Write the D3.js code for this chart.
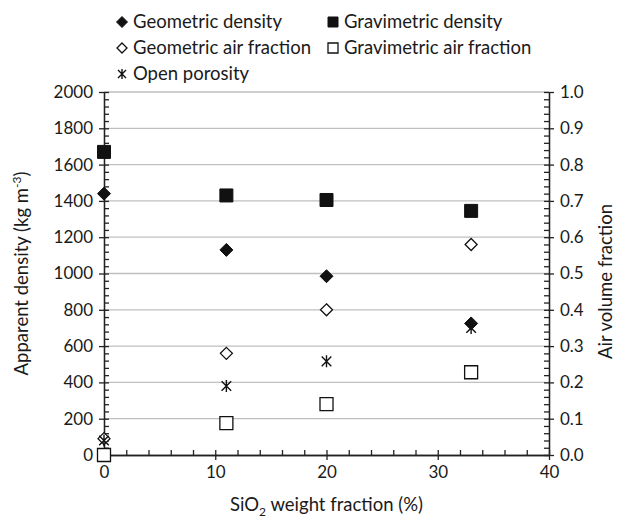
<!DOCTYPE html>
<html><head><meta charset="utf-8">
<script src="https://cdn.jsdelivr.net/npm/d3@7"></script>
<style>
body{margin:0;background:#fff}
svg{display:block}
text{font-family:Lato,"Open Sans",sans-serif;fill:#1a1a1a}
</style></head><body>
<svg id="c" width="623" height="520"></svg>
<script>
// ---- data ----
const xValues = [0, 11, 20, 33];
const geometricDensity = [1440, 1130, 985, 725];
const gravimetricDensity = [1670, 1430, 1405, 1345];
const geometricAirFraction = [0.045, 0.28, 0.40, 0.58];
const gravimetricAirFraction = [0.0, 0.088, 0.14, 0.228];
const openPorosity = [0.04, 0.19, 0.258, 0.35];
const xTicks = [0, 10, 20, 30, 40];
const yLeftTicks = [0, 200, 400, 600, 800, 1000, 1200, 1400, 1600, 1800, 2000];
const yRightTicks = [0, 0.1, 0.2, 0.3, 0.4, 0.5, 0.6, 0.7, 0.8, 0.9, 1.0];
const legendLabels = ["Geometric density", "Gravimetric density", "Geometric air fraction", "Gravimetric air fraction", "Open porosity"];

// ---- layout ----
const L = 104, R = 549, T = 92, B = 455;
const svg = d3.select("#c");
const x = d3.scaleLinear().domain([0, 40]).range([L, R]);
const yL = d3.scaleLinear().domain([0, 2000]).range([B, T]);
const yR = d3.scaleLinear().domain([0, 1]).range([B, T]);
const FS = 17, FT = 18.5;

// gridlines
svg.append("g").selectAll("line").data(yLeftTicks.filter(d => d > 0)).join("line")
  .attr("x1", L).attr("x2", R).attr("y1", d => yL(d)).attr("y2", d => yL(d))
  .attr("stroke", "#bfbfbf").attr("stroke-width", 1.3);

function styleAxis(g) {
  g.select(".domain").attr("stroke", "#222").attr("stroke-width", 1.3);
  g.selectAll(".tick line").attr("stroke", "#222").attr("stroke-width", 1.3);
  g.selectAll(".tick text").attr("font-size", FS).attr("font-family", "Lato,'Open Sans',sans-serif").attr("fill", "#1a1a1a");
}
const range = (a, b, s) => d3.range(Math.round(a / s), Math.round(b / s) + 1).map(i => +(i * s).toFixed(4));

// left axis
svg.append("g").attr("transform", `translate(${L},0)`)
  .call(d3.axisLeft(yL).tickValues(yLeftTicks).tickSize(5).tickPadding(6).tickFormat(d3.format("d")).tickSizeOuter(0)).call(styleAxis);
svg.append("g").attr("transform", `translate(${L},0)`)
  .call(d3.axisRight(yL).tickValues(range(0, 2000, 40)).tickSize(5).tickFormat("").tickSizeOuter(0)).call(styleAxis);

// right axis
svg.append("g").attr("transform", `translate(${R},0)`)
  .call(d3.axisRight(yR).tickValues(yRightTicks).tickSize(5).tickPadding(6).tickFormat(d3.format(".1f")).tickSizeOuter(0)).call(styleAxis);
svg.append("g").attr("transform", `translate(${R},0)`)
  .call(d3.axisLeft(yR).tickValues(range(0, 1, 0.02)).tickSize(5).tickFormat("").tickSizeOuter(0)).call(styleAxis);

// bottom axis
svg.append("g").attr("transform", `translate(0,${B})`)
  .call(d3.axisBottom(x).tickValues(xTicks).tickSize(5).tickPadding(6).tickSizeOuter(0)).call(styleAxis);
svg.append("g").attr("transform", `translate(0,${B})`)
  .call(d3.axisTop(x).tickValues(range(0, 40, 2)).tickSize(5).tickFormat("").tickSizeOuter(0)).call(styleAxis);

// axis titles
svg.append("text").attr("transform", `translate(28,${(T + B) / 2}) rotate(-90)`)
  .attr("text-anchor", "middle").attr("font-size", FT)
  .call(t => {
    t.append("tspan").text("Apparent density (kg m");
    t.append("tspan").attr("dy", -7).attr("font-size", 12).text("-3");
    t.append("tspan").attr("dy", 7).text(")");
  });
svg.append("text").attr("transform", `translate(612,${(T + B) / 2 + 8}) rotate(-90)`)
  .attr("text-anchor", "middle").attr("font-size", FT).text("Air volume fraction");
svg.append("text").attr("x", (L + R) / 2).attr("y", 511).attr("text-anchor", "middle").attr("font-size", FT)
  .call(t => {
    t.append("tspan").text("SiO");
    t.append("tspan").attr("dy", 5).attr("font-size", 12).text("2");
    t.append("tspan").attr("dy", -5).text(" weight fraction (%)");
  });

// marker paths
const diamond = s => `M0,${-s}L${s},0L0,${s}L${-s},0Z`;
const square = s => `M${-s},${-s}H${s}V${s}H${-s}Z`;
const star = s => `M0,${-s}V${s}M${-s * 0.8},${-s * 0.8}L${s * 0.8},${s * 0.8}M${-s * 0.8},${s * 0.8}L${s * 0.8},${-s * 0.8}`;

const series = [
  { vals: geometricDensity, y: yL, path: diamond(6.5), fill: "#111", stroke: "#111", sw: 1, ld: diamond(5.5) },
  { vals: gravimetricDensity, y: yL, path: square(6.5), fill: "#111", stroke: "#111", sw: 1, ld: square(5) },
  { vals: geometricAirFraction, y: yR, path: diamond(6), fill: "#fff", stroke: "#111", sw: 1.3, ld: diamond(5) },
  { vals: gravimetricAirFraction, y: yR, path: square(6.5), fill: "#fff", stroke: "#111", sw: 1.3, ld: square(5) },
  { vals: openPorosity, y: yR, path: star(6), fill: "none", stroke: "#111", sw: 1.4, ld: star(5) },
];
series.forEach(s => {
  svg.append("g").selectAll("path").data(s.vals).join("path")
    .attr("transform", (d, i) => `translate(${x(xValues[i])},${s.y(d)})`)
    .attr("d", s.path).attr("fill", s.fill).attr("stroke", s.stroke).attr("stroke-width", s.sw);
});

// legend
const legPos = [[122, 22], [333, 22], [122, 48], [333, 48], [122, 74]];
series.forEach((s, i) => {
  const [lx, ly] = legPos[i];
  svg.append("path").attr("transform", `translate(${lx},${ly})`).attr("d", s.ld)
    .attr("fill", s.fill).attr("stroke", s.stroke).attr("stroke-width", s.sw);
  svg.append("text").attr("x", lx + 11).attr("y", ly).attr("dy", "0.35em").attr("font-size", FT).text(legendLabels[i]);
});
</script></body></html>
